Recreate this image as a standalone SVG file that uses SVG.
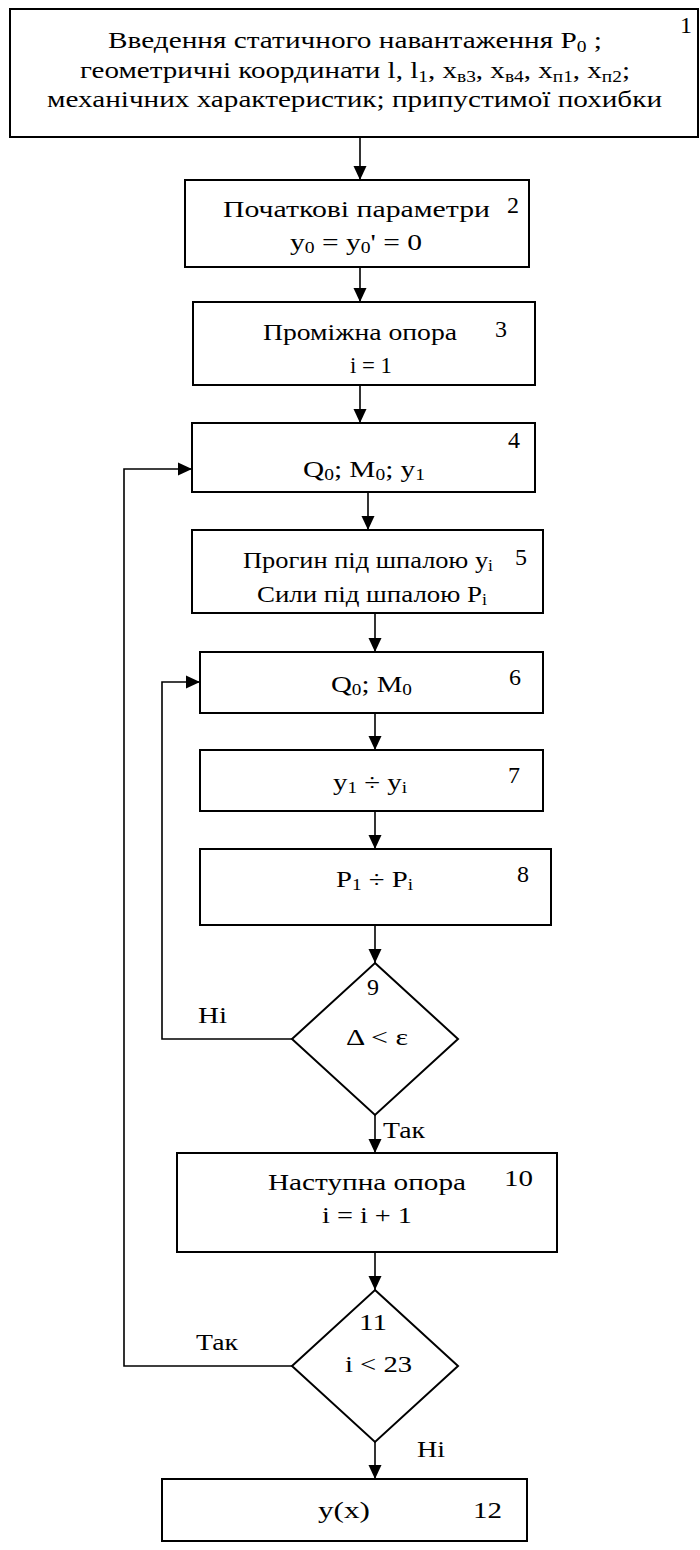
<svg xmlns="http://www.w3.org/2000/svg" width="700" height="1550" viewBox="0 0 700 1550">
  <style>
    text { font-family: "Liberation Serif", "DejaVu Serif", "Times New Roman", serif; font-size: 24px; fill: #000; }
    .c { text-anchor: middle; }
    .box { fill: #fff; stroke: #000; stroke-width: 2; }
    .link { fill: none; stroke: #000; stroke-width: 1.6; }
    .sub { font-size: 16px; }
  </style>
  <defs>
    <marker id="arrow" markerUnits="userSpaceOnUse" markerWidth="14" markerHeight="14" viewBox="0 0 14 14" refX="14" refY="7" orient="auto">
      <path d="M0,0.5 L14,7 L0,13.5 Z" fill="#000"/>
    </marker>
  </defs>

  <!-- connectors -->
  <g id="connectors">
    <path class="link" d="M360,137 V180" marker-end="url(#arrow)"/>
    <path class="link" d="M360,267 V302" marker-end="url(#arrow)"/>
    <path class="link" d="M360,385 V423" marker-end="url(#arrow)"/>
    <path class="link" d="M368,492 V530" marker-end="url(#arrow)"/>
    <path class="link" d="M375,613 V652" marker-end="url(#arrow)"/>
    <path class="link" d="M375,713 V750" marker-end="url(#arrow)"/>
    <path class="link" d="M375,811 V849" marker-end="url(#arrow)"/>
    <path class="link" d="M375,925 V963" marker-end="url(#arrow)"/>
    <path class="link" d="M292,1039 H162 V682 H200" marker-end="url(#arrow)"/>
    <path class="link" d="M375,1115 V1153" marker-end="url(#arrow)"/>
    <path class="link" d="M375,1252 V1290" marker-end="url(#arrow)"/>
    <path class="link" d="M292,1366 H124 V469 H192" marker-end="url(#arrow)"/>
    <path class="link" d="M375,1442 V1479" marker-end="url(#arrow)"/>
    <text x="198" y="1023" textLength="29" lengthAdjust="spacingAndGlyphs">Ні</text>
    <text x="383" y="1138" textLength="42" lengthAdjust="spacingAndGlyphs">Так</text>
    <text x="196" y="1350" textLength="42" lengthAdjust="spacingAndGlyphs">Так</text>
    <text x="417" y="1457" textLength="28" lengthAdjust="spacingAndGlyphs">Ні</text>
  </g>

  <!-- 1: input data -->
  <g id="n1">
    <rect class="box" x="10" y="9" width="688" height="128"/>
    <text x="108" y="48" textLength="494" lengthAdjust="spacingAndGlyphs">Введення статичного навантаження P<tspan class="sub" dy="4">0</tspan><tspan dy="-4"> ;</tspan></text>
    <text x="80" y="78" textLength="550" lengthAdjust="spacingAndGlyphs">геометричні координати l, l<tspan class="sub" dy="4">1</tspan><tspan dy="-4">, x</tspan><tspan class="sub" dy="4">в3</tspan><tspan dy="-4">, x</tspan><tspan class="sub" dy="4">в4</tspan><tspan dy="-4">, x</tspan><tspan class="sub" dy="4">п1</tspan><tspan dy="-4">, x</tspan><tspan class="sub" dy="4">п2</tspan><tspan dy="-4">;</tspan></text>
    <text x="47" y="107" textLength="615" lengthAdjust="spacingAndGlyphs">механічних характеристик; припустимої похибки</text>
    <text x="680" y="33">1</text>
  </g>

  <!-- 2: initial parameters -->
  <g id="n2">
    <rect class="box" x="185" y="180" width="344" height="87"/>
    <text x="223" y="217" textLength="267" lengthAdjust="spacingAndGlyphs">Початкові параметри</text>
    <text x="290" y="250" textLength="132" lengthAdjust="spacingAndGlyphs">y<tspan class="sub" dy="3">0</tspan><tspan dy="-3"> = y</tspan><tspan class="sub" dy="3">0</tspan><tspan dy="-3">' = 0</tspan></text>
    <text x="507" y="213">2</text>
  </g>

  <!-- 3: intermediate support -->
  <g id="n3">
    <rect class="box" x="193" y="302" width="342" height="83"/>
    <text x="263" y="340" textLength="194" lengthAdjust="spacingAndGlyphs">Проміжна опора</text>
    <text x="350" y="373" textLength="42" lengthAdjust="spacingAndGlyphs">i = 1</text>
    <text x="495" y="337">3</text>
  </g>

  <!-- 4 -->
  <g id="n4">
    <rect class="box" x="192" y="423" width="343" height="69"/>
    <text x="303" y="477" textLength="122" lengthAdjust="spacingAndGlyphs">Q<tspan class="sub" dy="3">0</tspan><tspan dy="-3">; M</tspan><tspan class="sub" dy="3">0</tspan><tspan dy="-3">; y</tspan><tspan class="sub" dy="3">1</tspan></text>
    <text x="508" y="448">4</text>
  </g>

  <!-- 5 -->
  <g id="n5">
    <rect class="box" x="192" y="530" width="351" height="83"/>
    <text x="243" y="568" textLength="250" lengthAdjust="spacingAndGlyphs">Прогин під шпалою y<tspan class="sub" dy="3">i</tspan></text>
    <text x="257" y="602" textLength="230" lengthAdjust="spacingAndGlyphs">Сили під шпалою P<tspan class="sub" dy="3">i</tspan></text>
    <text x="515" y="565">5</text>
  </g>

  <!-- 6 -->
  <g id="n6">
    <rect class="box" x="200" y="652" width="343" height="61"/>
    <text x="331" y="692" textLength="81" lengthAdjust="spacingAndGlyphs">Q<tspan class="sub" dy="3">0</tspan><tspan dy="-3">; M</tspan><tspan class="sub" dy="3">0</tspan></text>
    <text x="509" y="685">6</text>
  </g>

  <!-- 7 -->
  <g id="n7">
    <rect class="box" x="200" y="750" width="343" height="61"/>
    <text x="333" y="790" textLength="74" lengthAdjust="spacingAndGlyphs">y<tspan class="sub" dy="3">1</tspan><tspan dy="-3"> ÷ y</tspan><tspan class="sub" dy="3">i</tspan></text>
    <text x="508" y="783">7</text>
  </g>

  <!-- 8 -->
  <g id="n8">
    <rect class="box" x="200" y="849" width="351" height="76"/>
    <text x="336" y="887" textLength="77" lengthAdjust="spacingAndGlyphs">P<tspan class="sub" dy="3">1</tspan><tspan dy="-3"> ÷ P</tspan><tspan class="sub" dy="3">i</tspan></text>
    <text x="517" y="882">8</text>
  </g>

  <!-- 9: convergence check -->
  <g id="n9">
    <polygon class="box" points="375,963 458,1039 375,1115 292,1039"/>
    <text class="c" x="373" y="995">9</text>
    <text x="346" y="1045" textLength="62" lengthAdjust="spacingAndGlyphs">Δ &lt; ε</text>
  </g>

  <!-- 10: next support -->
  <g id="n10">
    <rect class="box" x="177" y="1153" width="380" height="99"/>
    <text x="268" y="1190" textLength="198" lengthAdjust="spacingAndGlyphs">Наступна опора</text>
    <text x="322" y="1223" textLength="90" lengthAdjust="spacingAndGlyphs">i = i + 1</text>
    <text x="504" y="1186" textLength="29" lengthAdjust="spacingAndGlyphs">10</text>
  </g>

  <!-- 11: support counter check -->
  <g id="n11">
    <polygon class="box" points="375,1290 458,1366 375,1442 292,1366"/>
    <text x="359" y="1330" textLength="28" lengthAdjust="spacingAndGlyphs">11</text>
    <text x="345" y="1372" textLength="67" lengthAdjust="spacingAndGlyphs">i &lt; 23</text>
  </g>

  <!-- 12: result -->
  <g id="n12">
    <rect class="box" x="162" y="1479" width="365" height="62"/>
    <text x="318" y="1518" textLength="52" lengthAdjust="spacingAndGlyphs">y(x)</text>
    <text x="473" y="1518" textLength="29" lengthAdjust="spacingAndGlyphs">12</text>
  </g>
</svg>
